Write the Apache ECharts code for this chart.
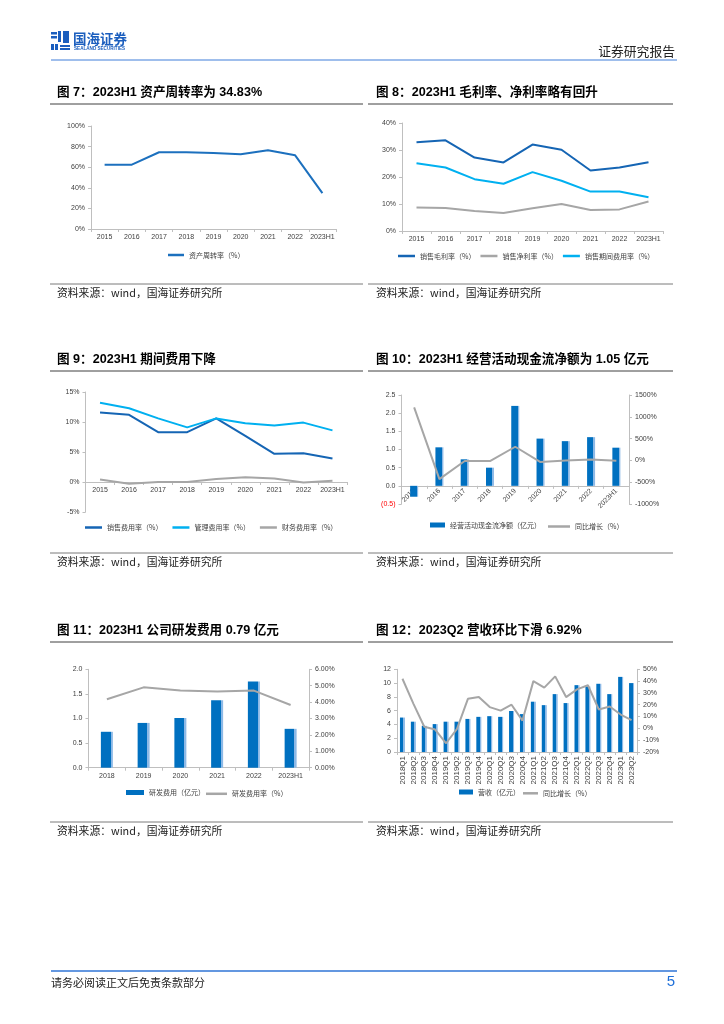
<!DOCTYPE html>
<html><head><meta charset="utf-8">
<script src="https://cdn.jsdelivr.net/npm/echarts@6/dist/echarts.min.js"></script>
<style>html,body{margin:0;padding:0;background:#fff}#c{width:724px;height:1024px}</style>
</head><body><div id="c"></div>
<script>
// ---------- data ----------
const years9 = ['2015','2016','2017','2018','2019','2020','2021','2022','2023H1'];
const turnover = [62.5,62.5,74.5,74.5,73.8,72.5,76.5,71.5,34.83];
const grossMargin = [32.9,33.6,27.2,25.4,32.0,30.1,22.4,23.5,25.5];
const netMargin = [8.7,8.5,7.4,6.7,8.4,10.0,7.8,8.0,10.9];
const periodExpRate = [25.1,23.5,19.2,17.5,21.8,18.6,14.6,14.6,12.5];
const sellingRate = [11.6,11.2,8.3,8.3,10.6,7.7,4.7,4.8,3.9];
const adminRate = [13.2,12.3,10.6,9.1,10.6,9.8,9.4,9.9,8.6];
const financeRate = [0.4,-0.3,0.0,0.0,0.5,0.8,0.6,-0.1,0.2];
const cashFlow = [-0.30,1.06,0.73,0.50,2.20,1.30,1.23,1.34,1.05];
const cashFlowYoY = [1215,-428,-15,-15,313,-38,0,23,-8];
const years6 = ['2018','2019','2020','2021','2022','2023H1'];
const rdExpense = [0.73,0.91,1.01,1.37,1.75,0.79];
const rdRate = [4.17,4.90,4.70,4.64,4.70,3.82];
const quarters = ['2018Q1','2018Q2','2018Q3','2018Q4','2019Q1','2019Q2','2019Q3','2019Q4',
  '2020Q1','2020Q2','2020Q3','2020Q4','2021Q1','2021Q2','2021Q3','2021Q4',
  '2022Q1','2022Q2','2022Q3','2022Q4','2023Q1','2023Q2'];
const revenue = [5.0,4.4,3.8,4.05,4.4,4.4,4.8,5.1,5.2,5.1,5.95,5.5,7.3,6.8,8.4,7.1,9.7,9.5,9.9,8.4,10.9,10.0];
const revenueYoY = [42,21,1.4,-1,-12.6,-0.5,25,26.5,18,15,20,6.6,40,34.5,44,26.5,33,36.5,16,18.5,11.7,6.9];

// ---------- styles ----------
const FONT = "'Liberation Sans','Noto Sans CJK SC',sans-serif";
const CJK = "'Noto Sans CJK SC','Liberation Sans',sans-serif";
const AX = '#BFBFBF';
const LBL = '#404040';
const DARK = '#1565B4', LIGHT = '#00B0F0', GREY = '#A6A6A6', BAR = '#0070C0';
function barColor(split){
  return {type:'linear',x:0,y:0,x2:1,y2:0,colorStops:[
    {offset:0,color:BAR},{offset:split,color:BAR},{offset:split,color:'#8DB9E6'},{offset:1,color:'#8DB9E6'}]};
}
function catAxis(grid, data, lbl, extra){
  return Object.assign({type:'category', gridIndex:grid, data:data, boundaryGap:true,
    axisLine:{show:true,onZero:false,lineStyle:{color:AX,width:1}},
    axisTick:{show:true,length:3,lineStyle:{color:AX}},
    axisLabel:Object.assign({color:LBL,fontSize:7,fontFamily:FONT,margin:5,interval:0}, lbl||{}),
    splitLine:{show:false}}, extra||{});
}
function valAxis(grid, min, max, interval, fmt, extra){
  return Object.assign({type:'value', gridIndex:grid, min:min, max:max, interval:interval,
    axisLine:{show:true,lineStyle:{color:AX,width:1}},
    axisTick:{show:true,length:3,lineStyle:{color:AX}},
    axisLabel:{color:LBL,fontSize:7,fontFamily:FONT,margin:6,formatter:fmt},
    splitLine:{show:false}}, extra||{});
}
const pct = v => v + '%';
function legend(left, top, names, gap, h, w, icon){
  return {left:left, top:top, padding:0, itemGap:gap, itemWidth:w||16, itemHeight:h||2.5, icon:icon||'rect',
    selectedMode:false, textStyle:{color:LBL,fontSize:7,fontFamily:CJK}, data:names};
}
function lineS(name, xi, yi, data, color){
  return {type:'line', name:name, xAxisIndex:xi, yAxisIndex:yi, data:data, symbol:'none',
    lineStyle:{width:2,color:color}, itemStyle:{color:color}};
}
function barS(name, xi, yi, data, w, split){
  return {type:'bar', name:name, xAxisIndex:xi, yAxisIndex:yi, data:data, barWidth:w,
    itemStyle:{color:barColor(split)}};
}

// ---------- page graphics ----------
const G = [];
function txt(x,y,text,size,color,weight,family,align){
  G.push({type:'text', x:x, y:y, silent:true, style:{text:text, fill:color||'#000', fontSize:size,
    fontWeight:weight||'normal', fontFamily:family||CJK, align:align||'left', verticalAlign:'middle', textVerticalAlign:'middle'}});
}
function hline(x1,x2,y,color,w){
  G.push({type:'line', silent:true, shape:{x1:x1,y1:y,x2:x2,y2:y}, style:{stroke:color,lineWidth:w||1}});
}
function rect(x,y,w,h,c){ G.push({type:'rect', silent:true, shape:{x:x,y:y,width:w,height:h}, style:{fill:c}}); }
// logo
const LB = '#1B5EBE';
rect(51,32,6,2.5,LB); rect(51,36,6,2.5,LB); rect(58,31,3,11,LB); rect(63,31,6,12,LB);
rect(51,44,3,6,LB); rect(55,44,3,6,LB); rect(60,45,10,2,LB); rect(60,48,10,2,LB);
txt(73,38.5,'国海证券',13.5,LB,'bold');
txt(74,48.5,'SEALAND SECURITIES',4.6,LB,'bold',FONT);
txt(675,51,'证券研究报告',12.8,'#222','normal',CJK,'right');
hline(51,677,60,'#7FA8E6',1.6);
// titles & sources
const rows = [{t:92.5, l:104, s:284, st:293},{t:360, l:371, s:553, st:562},{t:631, l:642, s:822, st:831}];
const titles = [['图 7：2023H1 资产周转率为 34.83%','图 8：2023H1 毛利率、净利率略有回升'],
  ['图 9：2023H1 期间费用下降','图 10：2023H1 经营活动现金流净额为 1.05 亿元'],
  ['图 11：2023H1 公司研发费用 0.79 亿元','图 12：2023Q2 营收环比下滑 6.92%']];
rows.forEach((r,i)=>{
  txt(57,r.t,titles[i][0],12.6,'#000','bold',FONT);
  txt(376,r.t,titles[i][1],12.6,'#000','bold',FONT);
  hline(50,363,r.l,'#404040',1); hline(368,673,r.l,'#404040',1);
  hline(50,363,r.s,'#595959',0.8); hline(368,673,r.s,'#595959',0.8);
  txt(57,r.st,'资料来源：wind，国海证券研究所',10.8,'#222');
  txt(376,r.st,'资料来源：wind，国海证券研究所',10.8,'#222');
});
hline(51,677,971,'#2F75D6',1.4);
txt(51,982.5,'请务必阅读正文后免责条款部分',11,'#222');
txt(675,982,'5',15,'#1E6FD9','normal',FONT,'right');

// ---------- chart option ----------
// grid heights and the share of each grid that lies below the zero line (for the x axes that sit at 0)
const H9 = 120, H10 = 109;
const option = {
  animation:false,
  backgroundColor:'#fff',
  grid:[
    {left:91, top:126, width:245, height:103},
    {left:402, top:123, width:261, height:108},
    {left:85.5, top:392, width:261.5, height:H9},
    {left:401.5, top:395, width:227.5, height:H10},
    {left:88.5, top:669.3, width:220.5, height:98.4},
    {left:397, top:669.3, width:240, height:82.7}
  ],
  xAxis:[
    catAxis(0, years9),
    catAxis(1, years9),
    catAxis(2, years9, null, {offset:-H9 * 5 / 20}),
    catAxis(3, years9, {rotate:45, margin:4}, {offset:-H10 * 0.5 / 3}),
    catAxis(4, years6),
    catAxis(5, quarters, {rotate:90, margin:4, fontSize:8})
  ],
  yAxis:[
    valAxis(0, 0, 100, 20, pct),
    valAxis(1, 0, 40, 10, pct),
    valAxis(2, -5, 15, 5, pct),
    valAxis(3, -0.5, 2.5, 0.5, v => v < 0 ? '{r|(' + Math.abs(v).toFixed(1) + ')}' : v.toFixed(1)),
    valAxis(3, -1000, 1500, 500, pct, {position:'right'}),
    valAxis(4, 0, 2, 0.5, v => v.toFixed(1)),
    valAxis(4, 0, 6, 1, v => v.toFixed(2) + '%', {position:'right'}),
    valAxis(5, 0, 12, 2, v => String(v)),
    valAxis(5, -20, 50, 10, pct, {position:'right'})
  ],
  legend:[
    legend(168, 251.5, ['资产周转率（%）'], 10),
    legend(398, 252.5, ['销售毛利率（%）','销售净利率（%）','销售期间费用率（%）'], 5, 2.5, 17),
    legend(85, 524, ['销售费用率（%）','管理费用率（%）','财务费用率（%）'], 10, 2.5, 17),
    legend(430, 521.5, [{name:'经营活动现金流净额（亿元）', itemStyle:{color:BAR}}], 5, 5, 15),
    legend(548, 523, ['同比增长（%）'], 5, 2.5, 22),
    legend(126, 789, [{name:'研发费用（亿元）', itemStyle:{color:BAR}}], 5, 5, 18),
    legend(206, 790.3, ['研发费用率（%）'], 5, 2.5, 21),
    legend(459, 788.5, [{name:'营收（亿元）', itemStyle:{color:BAR}}], 5, 5, 14),
    legend(523, 789.8, ['同比增长（%）'], 5, 2.5, 15)
  ],
  graphic:{elements:G},
  series:[
    lineS('资产周转率（%）', 0, 0, turnover, '#1C70BE'),
    lineS('销售毛利率（%）', 1, 1, grossMargin, DARK),
    lineS('销售净利率（%）', 1, 1, netMargin, GREY),
    lineS('销售期间费用率（%）', 1, 1, periodExpRate, LIGHT),
    lineS('销售费用率（%）', 2, 2, sellingRate, DARK),
    lineS('管理费用率（%）', 2, 2, adminRate, LIGHT),
    lineS('财务费用率（%）', 2, 2, financeRate, GREY),
    barS('经营活动现金流净额（亿元）', 3, 3, cashFlow, 8, 0.8),
    lineS('同比增长（%）', 3, 4, cashFlowYoY, GREY),
    barS('研发费用（亿元）', 4, 5, rdExpense, 12, 0.82),
    lineS('研发费用率（%）', 4, 6, rdRate, GREY),
    barS('营收（亿元）', 5, 7, revenue, 5, 0.7),
    lineS('同比增长（%）', 5, 8, revenueYoY, GREY)
  ]
};
option.yAxis[3].axisLabel.rich = {r:{color:'#FF0000',fontSize:7,fontFamily:FONT}};
const chart = echarts.init(document.getElementById('c'), null, {renderer:'canvas'});
chart.setOption(option);
</script>
</body></html>
